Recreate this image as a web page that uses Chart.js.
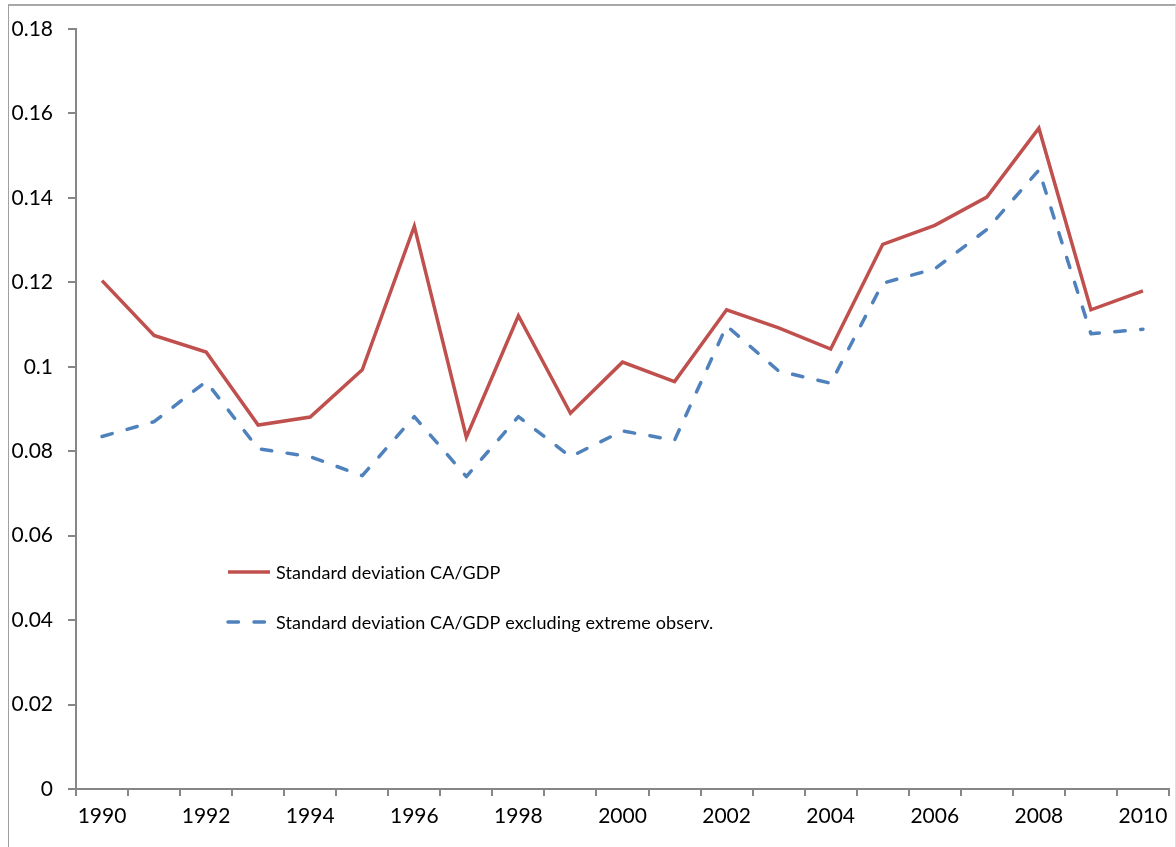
<!DOCTYPE html>
<html>
<head>
<meta charset="utf-8">
<script src="https://cdn.jsdelivr.net/npm/chart.js@4"></script>
<style>
  html, body { margin: 0; padding: 0; background: #fff; }
  #wrap { position: relative; width: 1176px; height: 847px; }
  #frame {
    position: absolute; left: 8px; top: 4px; width: 1166px; height: 850px;
    border-top: 2px solid #a8a8a8; border-left: 1px solid #a0a0a0; border-right: 1px solid #e0e0e0;
  }
  canvas { position: absolute; left: 0; top: 0; }
</style>
</head>
<body>
<div id="wrap">
  <div id="frame"></div>
  <canvas id="chart" width="1176" height="847"></canvas>
</div>
<script>
// ------------------------------------
// DATA
// ------------------------------------
const years = [1990, 1991, 1992, 1993, 1994, 1995, 1996, 1997, 1998, 1999, 2000,
               2001, 2002, 2003, 2004, 2005, 2006, 2007, 2008, 2009, 2010];

const sdAll = [0.1204, 0.1074, 0.1035, 0.0862, 0.0881, 0.0993, 0.1333, 0.0833, 0.1121, 0.0890, 0.1011,
               0.0965, 0.1135, 0.1092, 0.1042, 0.1290, 0.1335, 0.1402, 0.1565, 0.1135, 0.1180];

const sdExcl = [0.0835, 0.0870, 0.0965, 0.0806, 0.0787, 0.0742, 0.0882, 0.0740, 0.0882, 0.0787, 0.0848,
                0.0826, 0.1097, 0.0990, 0.0961, 0.1198, 0.1232, 0.1325, 0.1466, 0.1078, 0.1089];

const seriesNames = ["Standard deviation CA/GDP", "Standard deviation CA/GDP excluding extreme observ."];

const yMin = 0, yMax = 0.18, yStep = 0.02;

const axisColor = "#868686";
const fontFamily = "Lato, 'Open Sans', sans-serif";

// ------------------------------------
// LEGEND DRAWN INSIDE THE PLOT AREA
// ------------------------------------
const innerLegend = {
    id: "innerLegend",
    afterDraw(chart) {
        const ctx = chart.ctx;
        const area = chart.chartArea;
        const x0 = area.left + 150;
        const rows = [area.top + 543, area.top + 593];
        ctx.save();
        chart.data.datasets.forEach((ds, i) => {
            const y = rows[i];
            ctx.strokeStyle = ds.borderColor;
            ctx.lineWidth = ds.borderWidth;
            ctx.lineCap = ds.borderCapStyle || "butt";
            ctx.setLineDash(ds.borderDash || []);
            ctx.beginPath();
            ctx.moveTo(x0 + 2, y);
            ctx.lineTo(x0 + 44, y);
            ctx.stroke();
            ctx.setLineDash([]);
            ctx.fillStyle = "#000";
            ctx.font = "18px " + fontFamily;
            ctx.letterSpacing = "0.1px";   // keeps Lato from using its "ti" ligature
            ctx.textBaseline = "middle";
            ctx.textAlign = "left";
            ctx.fillText(ds.label, x0 + 50, y + 1);
        });
        ctx.restore();
    }
};

// ------------------------------------
// CHART
// ------------------------------------
const ctx = document.getElementById("chart").getContext("2d");

const chart = new Chart(ctx, {
    type: "line",
    data: {
        labels: years.map(String),
        datasets: [{
            label: seriesNames[0],
            data: sdAll,
            borderColor: "#C0504D",
            borderWidth: 3.5,
            borderJoinStyle: "miter",
            pointRadius: 0,
            tension: 0,
            fill: false
        }, {
            label: seriesNames[1],
            data: sdExcl,
            borderColor: "#4F81BD",
            borderWidth: 3.5,
            borderDash: [10.5, 15.5],
            borderCapStyle: "round",
            borderJoinStyle: "round",
            pointRadius: 0,
            tension: 0,
            fill: false
        }]
    },
    options: {
        responsive: false,
        animation: false,
        layout: { padding: { top: 29, right: 7, bottom: 0, left: 0 } },
        plugins: {
            legend: { display: false },
            tooltip: { enabled: false }
        },
        scales: {
            x: {
                type: "category",
                offset: true,
                afterFit(scale) { scale.height = 58; },
                border: { color: axisColor, width: 2 },
                grid: {
                    offset: true,
                    drawOnChartArea: false,
                    color: axisColor,
                    lineWidth: 2,
                    tickLength: 7
                },
                ticks: {
                    autoSkip: false,
                    maxRotation: 0,
                    padding: 8,
                    color: "#000",
                    font: { family: fontFamily, size: 21 },
                    callback: (val, i) => (i % 2 === 0 ? years[i] : "")
                }
            },
            y: {
                min: yMin,
                max: yMax,
                afterFit(scale) { scale.width = 76; },
                border: { color: axisColor, width: 2 },
                grid: {
                    drawOnChartArea: false,
                    color: axisColor,
                    lineWidth: 2,
                    tickLength: 8
                },
                ticks: {
                    stepSize: yStep,
                    padding: 15,
                    color: "#000",
                    font: { family: fontFamily, size: 21 },
                    callback: v => String(+v.toFixed(2))
                }
            }
        }
    },
    plugins: [innerLegend]
});
</script>
</body>
</html>
